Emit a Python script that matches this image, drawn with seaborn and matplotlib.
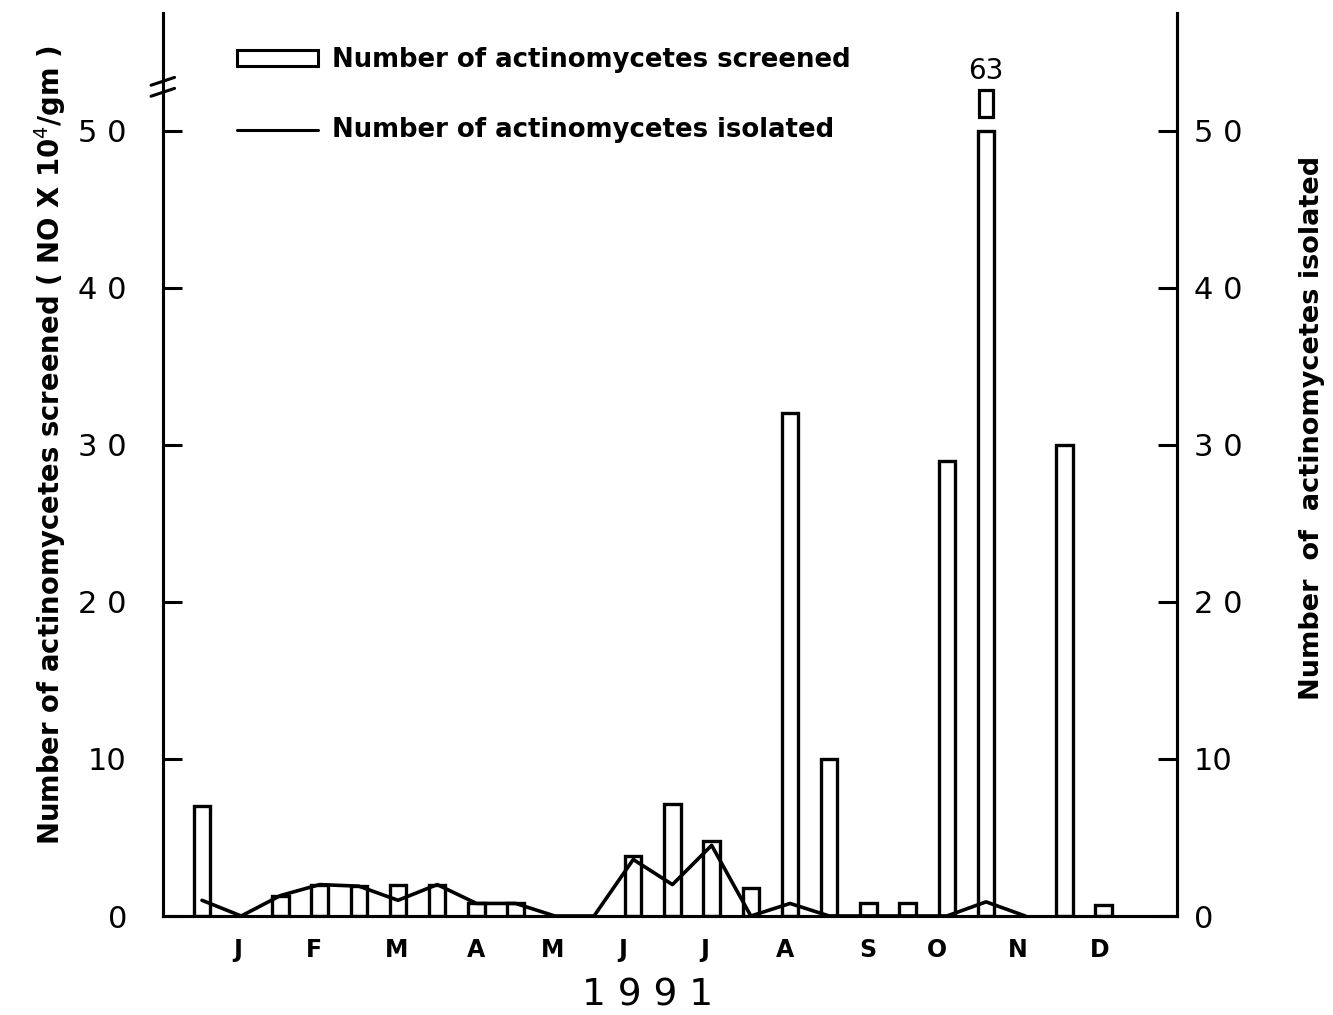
import numpy as np
import pandas as pd
import matplotlib
matplotlib.use("Agg")
import matplotlib.pyplot as plt
from matplotlib.patches import Rectangle
from matplotlib.lines import Line2D
import seaborn as sns

# Fortnightly sampling slots through 1991 (two slots per month)
sample_slots = [0, 2, 3, 4, 5, 6, 7, 8, 11, 12, 13, 14, 15, 16, 17, 18, 19, 20, 22, 23]
screened = [7.0, 1.3, 2.0, 1.9, 2.0, 2.0, 0.8, 0.8, 3.8, 7.1, 4.8, 1.8,
            32.0, 10.0, 0.8, 0.8, 29.0, 63.0, 30.0, 0.7]

isolated_slots = list(range(22))
isolated = [1.0, 0.0, 1.3, 2.0, 1.9, 1.0, 2.0, 0.8, 0.8, 0.0, 0.0,
            3.6, 2.0, 4.5, 0.0, 0.8, 0.0, 0.0, 0.0, 0.0, 0.9, 0.0]

month_labels = ["J", "F", "M", "A", "M", "J", "J", "A", "S", "O", "N", "D"]
month_pos = [0.9, 2.85, 4.97, 6.99, 8.93, 10.72, 12.83, 14.87, 16.99, 18.75, 20.82, 22.91]

y_ticks = [0, 10, 20, 30, 40, 50]
y_ticklabels = ["0", "10", "2 0", "3 0", "4 0", "5 0"]

AXIS_CAP = 50.0  # bars above this value are drawn broken

sns.set_theme(style="white", rc={"text.color": "black", "axes.labelcolor": "black",
                                 "xtick.color": "black", "ytick.color": "black",
                                 "axes.edgecolor": "black"})
plt.rcParams["font.family"] = ["DejaVu Sans"]

W, H = 1333, 1015
fig = plt.figure(figsize=(W / 100, H / 100), dpi=100)
ax = fig.add_axes([163 / W, 1 - 916 / H, (1177 - 163) / W, (916 - 13) / H])

df = pd.DataFrame({"slot": sample_slots, "screened": screened})
df["drawn"] = np.minimum(df["screened"], AXIS_CAP)

sns.barplot(data=df, x="slot", y="drawn", native_scale=True, width=0.42,
            color="white", saturation=1, edgecolor="black", linewidth=2.4,
            errorbar=None, ax=ax, zorder=2)

ax2 = ax.twinx()
iso = pd.DataFrame({"slot": isolated_slots, "isolated": isolated})
sns.lineplot(data=iso, x="slot", y="isolated", color="black", linewidth=2.6,
             ax=ax2, zorder=3)

xlim = (-0.995, 24.87)
ylim = (0, 57.5)
for a in (ax, ax2):
    a.set_xlim(*xlim)
    a.set_ylim(*ylim)
    a.set_ylabel("")
    a.set_xlabel("")
    for side, sp in a.spines.items():
        sp.set_color("black")
        sp.set_linewidth(2.2)
    a.spines["top"].set_visible(False)

# broken bar: continuation box and true value
big = df.loc[df["screened"] > AXIS_CAP]
for _, r in big.iterrows():
    bw = 0.42
    ax.add_patch(Rectangle((r["slot"] - bw / 2 + 0.03, AXIS_CAP + 0.9), bw - 0.06, 1.7,
                           facecolor="white", edgecolor="black", linewidth=2.3, zorder=3))
    ax.text(r["slot"], AXIS_CAP + 3.8, f"{r['screened']:.0f}", ha="center", va="center",
            fontsize=20, color="black")

# axis break mark on the left spine
for dy in (0.0, 0.7):
    ax.plot([-1.3, -0.7], [52.2 + dy, 52.7 + dy], color="black", linewidth=2.2,
            clip_on=False, zorder=5)

ax.set_xticks(month_pos)
ax.set_xticklabels(month_labels, fontsize=17, fontweight="bold")
ax.tick_params(axis="x", length=0, pad=16, colors="black")

ax.set_yticks(y_ticks)
ax.set_yticklabels(y_ticklabels, fontsize=22)
ax.tick_params(axis="y", direction="in", length=14, width=2.2, pad=26, colors="black")
ax2.set_yticks(y_ticks)
ax2.set_yticklabels(y_ticklabels, fontsize=22)
ax2.tick_params(axis="y", direction="in", length=14, width=2.2, pad=12, colors="black")

ax.grid(False)
ax2.grid(False)

fig.text(648 / W, 1 - 995 / H, "1 9 9 1", fontsize=27, ha="center", va="center")
fig.text(50 / W, 1 - 445 / H, r"Number of actinomycetes screened ( NO X 10$^{4}$/gm )",
         rotation=90, fontsize=19.8, fontweight="bold", ha="center", va="center")
fig.text(1312 / W, 1 - 428 / H, "Number  of  actinomycetes isolated",
         rotation=90, fontsize=19.5, fontweight="bold", ha="center", va="center")

# legend
lx0, lx1 = 237 / W, 318 / W
fig.patches.append(Rectangle((lx0, 1 - 66 / H), lx1 - lx0, 16 / H, transform=fig.transFigure,
                             facecolor="white", edgecolor="black", linewidth=2.2))
fig.lines.append(Line2D([lx0, lx1], [1 - 130 / H, 1 - 130 / H], transform=fig.transFigure,
                        color="black", linewidth=2.2))
fig.text(332 / W, 1 - 60 / H, "Number of actinomycetes screened", fontsize=18.7,
         fontweight="bold", ha="left", va="center")
fig.text(332 / W, 1 - 130 / H, "Number of actinomycetes isolated", fontsize=18.7,
         fontweight="bold", ha="left", va="center")

fig.savefig("out.png", dpi=100, facecolor="white")
